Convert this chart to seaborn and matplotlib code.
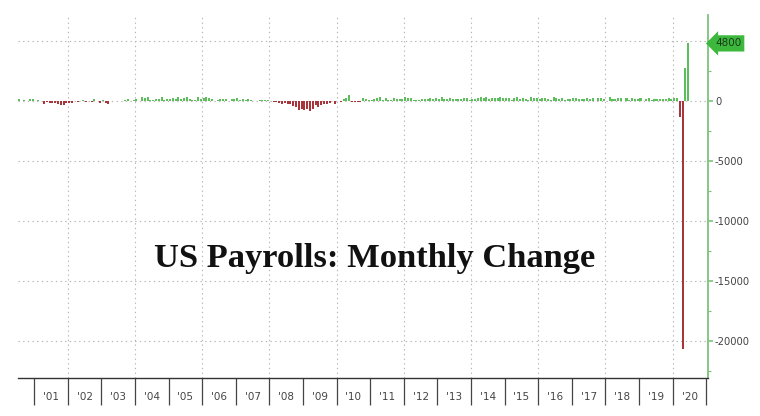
import numpy as np
import pandas as pd
import matplotlib
matplotlib.use("Agg")
import matplotlib.pyplot as plt
import seaborn as sns
from matplotlib.ticker import FixedLocator, NullFormatter

# Monthly change in US nonfarm payrolls (thousands), Jul 2000 - Jun 2020
start_year = 2000
start_month = 7
values = [
    # 2000 (Jul-Dec)
    166, 10, 121, 4, 193, 137,
    # 2001
    -11, 61, -30, -281, -44, -128, -125, -160, -244, -325, -292, -178,
    # 2002
    -133, -150, -24, -84, -7, 47, -97, -16, -55, 126, 8, -157,
    # 2003
    95, -159, -213, 23, -4, 2, 28, -41, 104, 199, 15, 124,
    # 2004
    149, 41, 338, 250, 310, 81, 45, 129, 159, 342, 56, 133,
    # 2005
    135, 240, 142, 360, 170, 246, 372, 193, 66, 84, 334, 156,
    # 2006
    278, 316, 282, 183, 23, 82, 206, 182, 159, 4, 207, 171,
    # 2007
    238, 89, 190, 64, 143, 78, -33, -16, 85, 82, 118, 97,
    # 2008
    13, -83, -72, -185, -233, -170, -213, -267, -450, -474, -765, -697,
    # 2009
    -791, -703, -823, -687, -349, -471, -329, -213, -220, -204, -2, -275,
    # 2010
    18, -50, 156, 251, 516, -122, -61, -42, -57, 241, 137, 71,
    # 2011
    70, 168, 212, 322, 102, 217, 106, 122, 221, 183, 164, 196,
    # 2012
    360, 226, 243, 96, 110, 88, 160, 150, 161, 225, 203, 214,
    # 2013
    190, 311, 135, 192, 218, 146, 140, 147, 172, 258, 255, 56,
    # 2014
    190, 151, 272, 329, 246, 304, 202, 230, 280, 227, 312, 255,
    # 2015
    234, 238, 86, 262, 344, 206, 254, 157, 100, 321, 272, 239,
    # 2016
    126, 237, 225, 153, 43, 297, 291, 135, 249, 124, 164, 155,
    # 2017
    216, 232, 145, 175, 155, 239, 190, 221, 8, 256, 216, 168,
    # 2018
    17, 324, 182, 196, 270, 235, 19, 281, 108, 277, 180, 191,
    # 2019
    269, 1, 147, 210, 85, 182, 194, 207, 208, 185, 261, 184,
    # 2020
    214, 251, -1373, -20687, 2725, 4800,
]
year_labels = ["'01", "'02", "'03", "'04", "'05", "'06", "'07", "'08", "'09", "'10",
               "'11", "'12", "'13", "'14", "'15", "'16", "'17", "'18", "'19", "'20"]
y_ticks = [-20000, -15000, -10000, -5000, 0, 5000]
y_tick_labels = ["-20000", "-15000", "-10000", "-5000", "0", ""]
last_label = "4800"
title_text = "US Payrolls: Monthly Change"

idx = np.arange(len(values))
t = start_year + (start_month - 1 + idx + 0.5) / 12.0
df = pd.DataFrame({"t": np.round(t, 5), "v": values})
df["sign"] = np.where(df["v"] >= 0, "up", "down")

GREEN = "#5cbf5c"
RED = "#a8353b"
SPINE_GREEN = "#7cc47c"
GRID = "#b4b4b4"

sns.set_style("white")
plt.rcParams["font.family"] = ["DejaVu Sans"]

fig = plt.figure(figsize=(7.6, 4.16), dpi=100)
ax = fig.add_axes([18/760, 1-378/416, (708-18)/760, (378-15)/416])

sns.barplot(data=df, x="t", y="v", hue="sign", palette={"up": GREEN, "down": RED},
            native_scale=True, dodge=False, width=0.72, errorbar=None,
            legend=False, ax=ax, linewidth=0, saturation=1)

ax.set_xlim(2000.52, 2021.05)
ax.set_ylim(-23083, 7167)
ax.set_xlabel("")
ax.set_ylabel("")

# x axis: separators at year boundaries, labels centred
years = list(range(2001, 2022))
ax.xaxis.set_major_locator(FixedLocator(years))
ax.xaxis.set_major_formatter(NullFormatter())
ax.xaxis.set_minor_locator(FixedLocator([y + 0.5 for y in range(2001, 2021)]))
ax.set_xticklabels(year_labels, minor=True)
ax.tick_params(axis="x", which="major", direction="out", length=19.5, width=0.9,
               color="#444444", bottom=True)
ax.tick_params(axis="x", which="minor", length=0, pad=10, labelsize=7.5,
               labelcolor="#444444")

# y axis on right
ax.yaxis.tick_right()
ax.set_yticks(y_ticks)
ax.set_yticklabels(y_tick_labels)
ax.yaxis.set_minor_locator(FixedLocator(list(np.arange(-22500, 7500, 2500))))
ax.tick_params(axis="y", which="major", direction="out", length=3.5, width=1.2,
               color=SPINE_GREEN, labelsize=7.2, labelcolor="#444444", pad=1.5,
               right=True, left=False)
ax.tick_params(axis="y", which="minor", direction="out", length=1.8, width=0.8,
               color=SPINE_GREEN, right=True, left=False)

# grid
for yv in y_ticks:
    ax.axhline(yv, color=GRID, lw=0.8, ls=(0, (1.2, 3)), zorder=0)
for xv in range(2002, 2021, 2):
    ax.axvline(xv, color=GRID, lw=0.8, ls=(0, (1.2, 3)), zorder=0)

for s in ["top", "left"]:
    ax.spines[s].set_visible(False)
ax.spines["right"].set_color(SPINE_GREEN)
ax.spines["right"].set_linewidth(1.3)
ax.spines["bottom"].set_color("#333333")
ax.spines["bottom"].set_linewidth(1.0)

# last value tag
ax.annotate(last_label, xy=(1.0, values[-1]), xycoords=("axes fraction", "data"),
            xytext=(5, 0), textcoords="offset points", va="center", ha="left",
            fontsize=7.5, color="#1a3a1a",
            bbox=dict(boxstyle="larrow,pad=0.3", fc="#3cb83c", ec="none"),
            annotation_clip=False)

fig.text(375/760, 1-258/416, title_text, ha="center", va="center",
         fontsize=24.8, fontweight="bold", family=["Liberation Serif", "DejaVu Serif"],
         color="#111111")

fig.savefig("out.png", dpi=100)
